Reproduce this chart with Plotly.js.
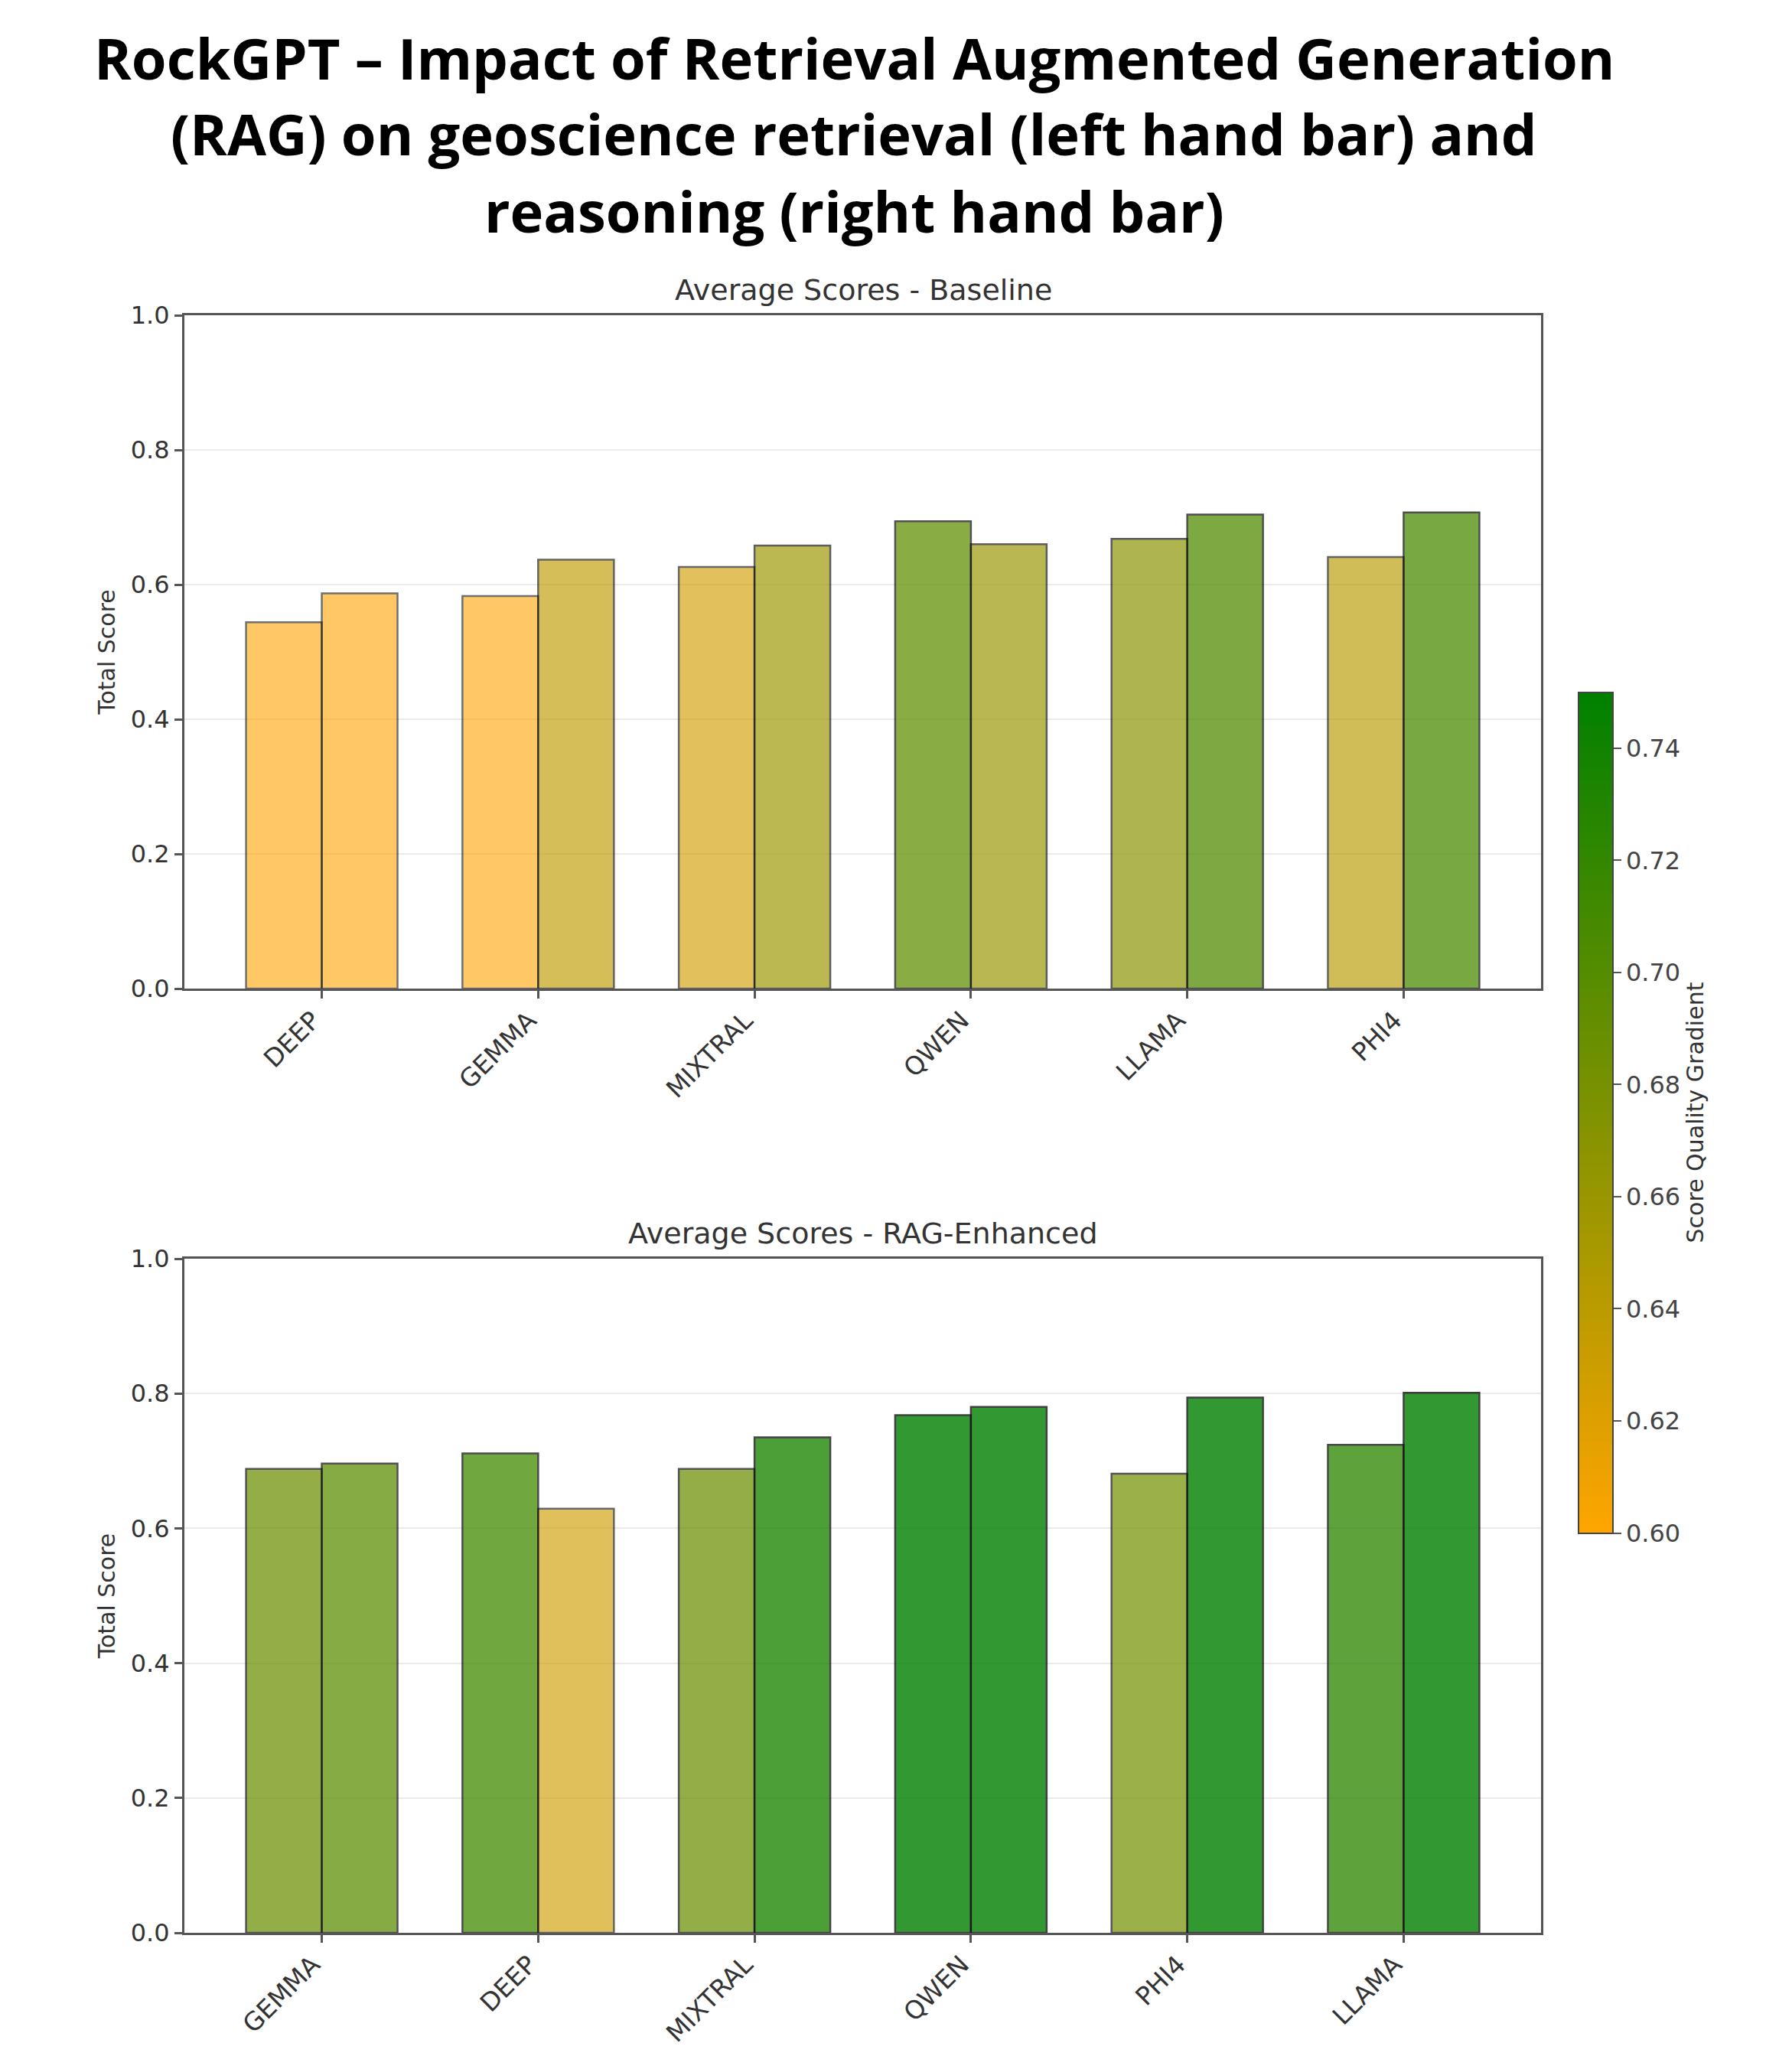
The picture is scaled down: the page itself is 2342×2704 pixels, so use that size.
<!DOCTYPE html>
<html>
<head>
<meta charset="utf-8">
<script src="https://cdn.plot.ly/plotly-3.0.1.min.js"></script>
<style>
  html, body { margin: 0; padding: 0; background: #ffffff; }
  #chart { width: 2342px; height: 2704px; }
</style>
</head>
<body>
<div id="chart"></div>
<script>
// ---- Data ----
const TITLE_LINES = [
  'RockGPT – Impact of Retrieval Augmented Generation',
  '(RAG) on geoscience retrieval (left hand bar) and',
  'reasoning (right hand bar)'
];
const BASE_TITLE = 'Average Scores - Baseline';
const RAG_TITLE = 'Average Scores - RAG-Enhanced';
const Y_TITLE = 'Total Score';
const CBAR_TITLE = 'Score Quality Gradient';

const BASE_MODELS = ['DEEP', 'GEMMA', 'MIXTRAL', 'QWEN', 'LLAMA', 'PHI4'];
const BASE_RETRIEVAL = [0.544, 0.583, 0.626, 0.694, 0.668, 0.641];
const BASE_REASONING = [0.587, 0.637, 0.658, 0.660, 0.704, 0.707];

const RAG_MODELS = ['GEMMA', 'DEEP', 'MIXTRAL', 'QWEN', 'PHI4', 'LLAMA'];
const RAG_RETRIEVAL = [0.688, 0.711, 0.688, 0.768, 0.681, 0.724];
const RAG_REASONING = [0.696, 0.629, 0.735, 0.780, 0.794, 0.801];

const CBAR_TICKS = [0.60, 0.62, 0.64, 0.66, 0.68, 0.70, 0.72, 0.74];
const Y_TICKS = [0.0, 0.2, 0.4, 0.6, 0.8, 1.0];

// ---- Styling ----
const W = 2342, H = 2704;
const FONT = 'DejaVu Sans, sans-serif';
const TXT = '#333333';
const SPINE = '#555555';
const COLORSCALE = [[0, 'rgb(255,165,0)'], [1, 'rgb(0,128,0)']];
const CMIN = 0.60, CMAX = 0.75;
// bar transparency runs from 0.6 (low end of the scale) to 0.8 (high end)
const ALPHA_LO = 0.6, ALPHA_HI = 0.8;

function px2x(p) { return p / W; }
function px2y(p) { return 1 - p / H; }

function barOpacity(v) {
  const t = Math.min(1, Math.max(0, (v - CMIN) / (CMAX - CMIN)));
  return ALPHA_LO + (ALPHA_HI - ALPHA_LO) * t;
}

function barTrace(x, y, xa, ya, showscale) {
  const t = {
    type: 'bar',
    x: x,
    y: y,
    xaxis: xa,
    yaxis: ya,
    marker: {
      color: y,
      colorscale: COLORSCALE,
      cmin: CMIN,
      cmax: CMAX,
      opacity: y.map(barOpacity),
      line: { color: '#111111', width: 2.5 },
      showscale: showscale
    },
    hoverinfo: 'none',
    showlegend: false
  };
  if (showscale) {
    t.marker.colorbar = {
      x: px2x(2063), xanchor: 'left',
      y: px2y(1454), yanchor: 'middle',
      len: 1099 / H, lenmode: 'fraction',
      thickness: 45, thicknessmode: 'pixels',
      xpad: 0, ypad: 0,
      outlinewidth: 2, outlinecolor: '#444444',
      tickmode: 'array',
      tickvals: CBAR_TICKS,
      ticktext: CBAR_TICKS.map(v => v.toFixed(2)),
      ticks: 'outside', ticklen: 10, tickwidth: 2, tickcolor: SPINE,
      tickfont: { family: FONT, size: 32, color: '#444444' },
      title: { text: CBAR_TITLE, side: 'right', font: { family: FONT, size: 30, color: TXT } }
    };
  }
  return t;
}

const data = [
  barTrace(BASE_MODELS, BASE_RETRIEVAL, 'x', 'y', true),
  barTrace(BASE_MODELS, BASE_REASONING, 'x', 'y', false),
  barTrace(RAG_MODELS, RAG_RETRIEVAL, 'x2', 'y2', false),
  barTrace(RAG_MODELS, RAG_REASONING, 'x2', 'y2', false)
];

const XDOM = [px2x(241), px2x(2014)];

function xAxis(anchor, cats) {
  return {
    domain: XDOM,
    anchor: anchor,
    type: 'category',
    categoryorder: 'array',
    categoryarray: cats,
    range: [-0.635, cats.length - 1 + 0.635],
    tickangle: -45,
    ticklabelshift: -12,
    ticklabelstandoff: -4,
    tickfont: { family: FONT, size: 33, color: TXT },
    ticks: 'outside', ticklen: 10, tickwidth: 3, tickcolor: SPINE,
    showline: true, linecolor: SPINE, linewidth: 3, mirror: true,
    showgrid: false, zeroline: false,
    automargin: false
  };
}
function yAxis(anchor, dom) {
  return {
    domain: dom,
    anchor: anchor,
    range: [0, 1],
    tickmode: 'array',
    tickvals: Y_TICKS,
    ticktext: Y_TICKS.map(v => v.toFixed(1)),
    tickfont: { family: FONT, size: 32, color: TXT },
    ticks: 'outside', ticklen: 10, tickwidth: 3, tickcolor: SPINE,
    showline: true, linecolor: SPINE, linewidth: 3, mirror: true,
    showgrid: true, gridcolor: '#ebebeb', gridwidth: 2,
    zeroline: false,
    title: { text: Y_TITLE, font: { family: FONT, size: 30, color: TXT }, standoff: 12 },
    automargin: false
  };
}

const annotations = [];
const TITLE_Y = [76, 175, 275];
TITLE_LINES.forEach((line, i) => {
  annotations.push({
    text: '<b>' + line + '</b>',
    xref: 'paper', yref: 'paper',
    x: px2x(1116), y: px2y(TITLE_Y[i]),
    xanchor: 'center', yanchor: 'middle',
    showarrow: false,
    font: { family: 'Open Sans, sans-serif', size: 74, color: '#000000' }
  });
});
annotations.push({
  text: BASE_TITLE, xref: 'paper', yref: 'paper',
  x: px2x(1128), y: px2y(379), xanchor: 'center', yanchor: 'middle',
  showarrow: false, font: { family: FONT, size: 38, color: TXT }
});
annotations.push({
  text: RAG_TITLE, xref: 'paper', yref: 'paper',
  x: px2x(1128), y: px2y(1612), xanchor: 'center', yanchor: 'middle',
  showarrow: false, font: { family: FONT, size: 38, color: TXT }
});

const layout = {
  width: W, height: H,
  margin: { l: 0, r: 0, t: 0, b: 0, pad: 0 },
  paper_bgcolor: '#ffffff',
  plot_bgcolor: '#ffffff',
  barmode: 'group',
  bargap: 0.3,
  bargroupgap: 0,
  showlegend: false,
  xaxis: xAxis('y', BASE_MODELS),
  yaxis: yAxis('x', [px2y(1292), px2y(412)]),
  xaxis2: xAxis('y2', RAG_MODELS),
  yaxis2: yAxis('x2', [px2y(2526), px2y(1645)]),
  annotations: annotations
};

Plotly.newPlot('chart', data, layout, { staticPlot: true, displayModeBar: false });
</script>
</body>
</html>
